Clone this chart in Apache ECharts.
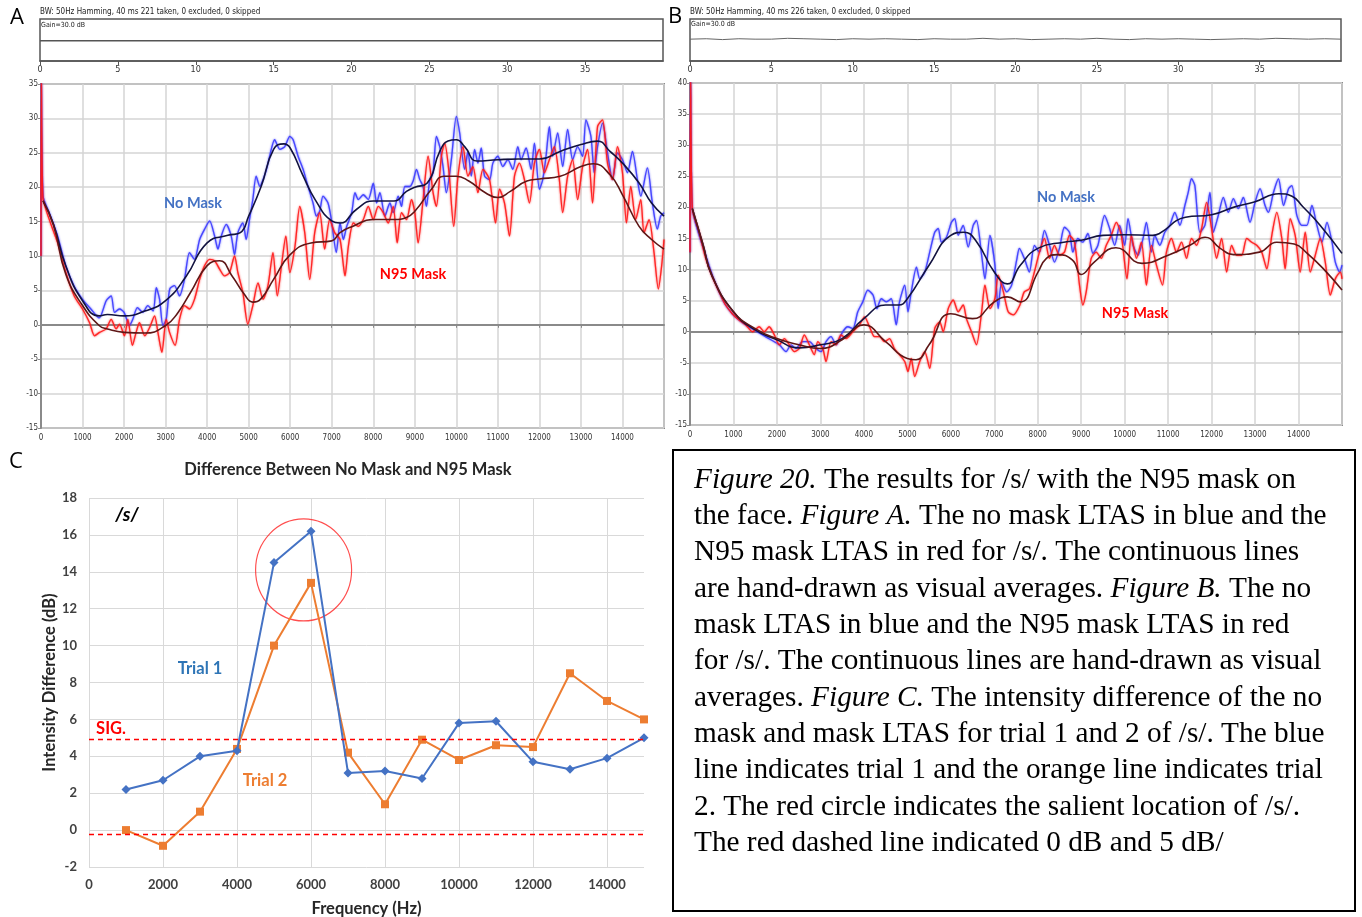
<!DOCTYPE html>
<html><head><meta charset="utf-8">
<script src="https://cdn.jsdelivr.net/npm/echarts@6/dist/echarts.min.js"></script>
<style>html,body{margin:0;padding:0;background:#fff}#c{width:1362px;height:917px}</style>
</head><body><div id="c"></div>
<script>
// ---------- Panel A (LTAS, /s/ trial 1) : [frequency Hz, dB] ----------
const aNoMaskRaw = [[0,10],[10,36],[50,18.7],[200,16.3],[400,12.9],[600,8.5],[800,5.6],[1000,3.7],[1200,2.3],[1400,1.0],[1570,3.5],[1690,4.2],[1770,1.8],[1890,2.3],[2000,1.8],[2130,-0.1],[2210,0.8],[2320,2.5],[2450,1.8],[2570,2.8],[2700,2.0],[2775,5.4],[2855,3.7],[2935,-0.1],[3015,0.8],[3100,5.2],[3215,5.7],[3335,4.2],[3455,6.6],[3575,10.5],[3695,9.5],[3820,12.4],[3940,13.9],[4060,15.1],[4180,12.9],[4260,11.0],[4340,12.9],[4460,14.6],[4580,12.9],[4660,10.2],[4740,13.4],[4860,14.8],[4940,12.4],[5020,15.3],[5100,18.2],[5180,21.6],[5270,20.1],[5345,21.1],[5430,22.6],[5505,24.5],[5625,26.9],[5750,25.5],[5870,25.9],[5990,27.4],[6070,26.9],[6190,24.5],[6310,22.6],[6430,20.1],[6550,17.7],[6630,15.8],[6710,16.5],[6790,18.7],[6910,17.7],[6990,15.3],[7110,10.5],[7200,14.8],[7280,12.4],[7360,14.3],[7480,16.3],[7560,19.2],[7640,18.2],[7760,18.9],[7880,18.2],[8000,20.6],[8080,17.7],[8160,19.2],[8280,15.8],[8400,17.7],[8480,16.3],[8600,18.7],[8680,17.2],[8760,20.1],[8880,20.1],[8960,20.9],[9040,22.6],[9120,21.1],[9200,20.1],[9280,17.2],[9360,21.1],[9440,22.1],[9520,27.4],[9600,25.9],[9680,23.0],[9760,19.2],[9880,24.0],[10000,30.3],[10080,27.9],[10200,22.6],[10280,25.2],[10360,21.6],[10440,25.5],[10520,23.5],[10600,25.7],[10680,21.6],[10800,21.1],[10880,23.5],[11000,24.5],[11120,23.0],[11240,24.0],[11360,22.6],[11480,25.9],[11560,24.0],[11680,25.7],[11800,22.6],[11880,26.4],[12000,19.7],[12080,21.1],[12160,24.5],[12240,28.8],[12320,24.5],[12440,27.9],[12560,23.0],[12680,28.4],[12800,24.0],[12920,25.9],[13040,24.5],[13120,29.8],[13240,27.4],[13320,22.1],[13400,25.9],[13520,29.3],[13640,25.0],[13760,21.1],[13880,25.0],[14000,24.0],[14120,22.1],[14240,25.2],[14360,21.1],[14440,18.7],[14600,22.8],[14720,17.7],[14840,13.9],[14920,15.8],[15000,16.3]];
const aN95Raw = [[0,10],[10,36],[45,18.5],[200,15.3],[400,11.9],[600,7.6],[800,4.2],[1000,2.3],[1170,0.3],[1290,-1.6],[1410,-1.1],[1570,-0.6],[1690,0.8],[1810,-0.6],[1890,0.1],[2010,-1.6],[2090,0.8],[2200,-3.0],[2290,-1.1],[2370,0.3],[2500,-1.6],[2615,-0.4],[2735,1.3],[2815,-1.1],[2910,-4.0],[3015,0.8],[3095,-1.1],[3230,-3.0],[3335,0.8],[3455,2.8],[3575,2.3],[3695,3.7],[3820,6.6],[3940,8.6],[4060,9.5],[4180,9.3],[4300,8.1],[4420,7.1],[4540,7.6],[4660,10.0],[4740,7.6],[4860,4.7],[4980,0.1],[5100,2.8],[5225,6.1],[5345,3.7],[5465,5.7],[5585,10.5],[5690,4.2],[5790,8.6],[5895,12.9],[5990,7.6],[6115,11.4],[6230,17.2],[6350,13.4],[6470,6.6],[6590,13.4],[6710,16.3],[6830,11.0],[6950,15.3],[7070,13.4],[7200,12.4],[7320,7.1],[7400,11.4],[7520,14.8],[7640,14.3],[7760,15.3],[7880,17.2],[8000,15.3],[8120,17.2],[8240,16.3],[8360,14.8],[8480,17.2],[8576,11.9],[8680,16.3],[8800,15.3],[8920,18.2],[9000,16.3],[9080,11.9],[9200,18.2],[9320,24.5],[9440,19.2],[9520,17.2],[9640,24.5],[9720,26.4],[9824,22.1],[9936,14.3],[10040,21.6],[10160,25.9],[10280,21.6],[10400,23.0],[10520,19.2],[10640,22.6],[10800,21.1],[10944,14.8],[11040,19.7],[11160,17.7],[11280,12.9],[11400,21.6],[11520,23.5],[11640,21.1],[11760,17.7],[11880,23.5],[12000,25.5],[12120,22.1],[12240,24.0],[12360,25.9],[12480,21.1],[12560,16.3],[12680,21.6],[12800,24.0],[12920,18.2],[13040,23.0],[13160,25.5],[13280,17.7],[13400,28.8],[13520,29.8],[13640,23.5],[13760,21.1],[13880,25.9],[14000,22.1],[14096,14.8],[14200,20.1],[14320,15.3],[14440,18.2],[14520,13.4],[14640,15.3],[14760,10.5],[14864,5.2],[14944,8.6],[15000,12.4]];
const aNoMaskAvg = [[50,18],[300,14.6],[600,8.5],[1000,3.5],[1400,1.3],[1600,1.5],[2000,1.3],[2500,2.0],[3000,3.5],[3500,7.1],[4000,11.9],[4500,13.0],[4800,13.4],[5000,15.8],[5300,20.1],[5600,25.5],[5850,26.3],[6000,25.7],[6300,21.8],[6600,18.2],[7000,15.1],[7200,14.8],[7600,16.8],[8000,18.0],[8500,18.0],[8800,19.4],[9000,20.0],[9300,20.6],[9600,25.2],[9800,26.7],[10000,26.9],[10200,25.9],[10500,23.8],[11000,24.0],[11500,24.1],[12000,24.1],[12500,25.2],[13000,26.2],[13400,26.7],[13700,25.2],[14000,23.5],[14400,20.6],[14700,17.7],[15000,15.8]];
const aN95Avg = [[50,18],[300,14.5],[600,7.3],[1000,2.8],[1400,-0.1],[1600,-0.6],[2000,-1.1],[2500,-1.2],[3000,-0.1],[3300,1.8],[3600,4.7],[4000,8.6],[4300,9.3],[4600,7.1],[4900,4.4],[5100,3.3],[5300,3.8],[5600,6.6],[6000,10.2],[6500,11.9],[7000,12.2],[7200,13.4],[7500,14.3],[8000,15.3],[8500,15.3],[8800,15.6],[9000,16.5],[9400,19.7],[9700,21.6],[10000,21.6],[10300,20.9],[10700,19.2],[11000,18.5],[11300,19.4],[11700,20.9],[12000,21.2],[12500,21.6],[13000,23.0],[13300,23.4],[13700,21.8],[14000,18.9],[14400,14.3],[14700,12.4],[15000,11.0]];

// ---------- Panel B (LTAS, /s/ trial 2) ----------
const bNoMaskRaw = [[0,12.8],[15,41],[54,19.8],[210,15.5],[360,12.3],[515,9.1],[670,6.4],[820,4.3],[975,2.9],[1130,1.9],[1285,1.1],[1475,0.3],[1670,-0.5],[1860,-1.3],[2055,-2.1],[2210,-3.2],[2325,-2.1],[2440,-2.7],[2590,-1.6],[2745,-1.6],[2900,-2.7],[3015,-3.2],[3130,-1.6],[3245,-0.8],[3360,-2.1],[3515,0.0],[3630,0.8],[3745,0.5],[3860,3.2],[3975,4.8],[4090,6.7],[4210,5.9],[4300,3.7],[4400,5.3],[4515,4.8],[4630,5.3],[4745,1.1],[4820,4.8],[4940,7.5],[5015,3.2],[5090,6.4],[5210,10.4],[5285,8.5],[5400,9.6],[5515,12.8],[5630,16.0],[5710,16.6],[5785,14.4],[5900,15.2],[6015,17.6],[6090,18.2],[6170,15.5],[6285,17.1],[6400,13.6],[6515,17.1],[6590,17.9],[6710,12.3],[6785,8.5],[6900,15.5],[7015,10.7],[7090,3.7],[7170,8.0],[7285,6.4],[7400,7.5],[7515,11.5],[7577,13.4],[7690,11.8],[7808,9.6],[7923,13.9],[8040,12.8],[8154,16.3],[8270,13.9],[8385,11.2],[8500,13.4],[8615,16.8],[8730,16.0],[8808,12.8],[8923,15.0],[9038,14.4],[9154,15.8],[9270,12.6],[9385,13.9],[9538,18.7],[9654,16.6],[9770,13.9],[9884,17.1],[10000,13.9],[10077,18.2],[10192,13.9],[10308,12.3],[10423,15.0],[10500,17.6],[10615,12.8],[10692,15.5],[10808,13.9],[10923,16.0],[11038,17.1],[11154,19.2],[11270,17.1],[11385,20.3],[11462,22.4],[11538,24.6],[11615,23.5],[11730,16.0],[11846,17.1],[11962,22.4],[12040,16.0],[12154,18.7],[12270,21.6],[12385,19.2],[12500,21.4],[12615,19.8],[12730,21.6],[12884,17.6],[13000,20.8],[13115,23.0],[13230,20.3],[13308,19.2],[13423,22.4],[13538,24.6],[13654,20.3],[13770,23.0],[13846,23.5],[13961,18.7],[14077,17.1],[14192,17.1],[14308,20.3],[14423,17.1],[14538,14.4],[14654,17.6],[14770,14.4],[14846,11.2],[14946,9.6],[15000,10.7]];
const bN95Raw = [[0,12.8],[15,41],[54,19.8],[210,16.0],[360,11.8],[515,8.8],[670,6.4],[820,4.3],[975,2.9],[1130,1.9],[1285,1.1],[1440,0.0],[1590,0.8],[1710,0.0],[1820,0.8],[1940,-0.5],[2055,-2.1],[2170,-1.1],[2285,-2.1],[2400,-3.2],[2515,-2.7],[2630,-0.5],[2745,-2.1],[2860,-3.7],[2940,-1.6],[3055,-2.7],[3130,-4.8],[3245,-1.6],[3360,-2.1],[3475,-0.5],[3590,-1.1],[3745,0.0],[3900,1.1],[4015,2.4],[4130,0.8],[4245,-0.8],[4360,-0.8],[4475,-1.6],[4590,-1.1],[4700,-2.7],[4820,-3.7],[4940,-4.8],[5015,-6.4],[5090,-4.3],[5170,-7.2],[5285,-4.8],[5400,-3.2],[5515,-5.9],[5630,0.5],[5745,1.6],[5825,0.0],[5940,3.7],[6055,5.1],[6170,3.2],[6285,4.3],[6360,2.1],[6475,0.0],[6590,-2.1],[6710,3.2],[6785,7.5],[6900,3.7],[7015,5.3],[7090,9.1],[7210,6.4],[7320,3.2],[7440,2.7],[7590,4.3],[7690,6.4],[7808,6.9],[7923,9.6],[8040,12.8],[8154,15.0],[8270,11.8],[8385,13.9],[8500,12.3],[8615,12.8],[8730,15.5],[8846,14.4],[8961,7.5],[9038,4.3],[9115,6.4],[9230,11.8],[9346,12.8],[9461,11.8],[9577,13.9],[9692,15.5],[9808,17.6],[9923,15.5],[10053,8.5],[10154,15.5],[10270,11.8],[10385,14.4],[10500,7.5],[10615,13.9],[10731,10.7],[10870,7.5],[10961,12.8],[11077,15.0],[11192,12.8],[11308,14.4],[11423,11.8],[11538,15.0],[11654,13.9],[11770,16.6],[11885,20.8],[12000,16.6],[12115,11.8],[12230,15.0],[12346,9.6],[12461,13.9],[12577,12.3],[12692,12.3],[12808,15.0],[12923,14.4],[13038,13.9],[13154,12.8],[13270,10.1],[13385,15.5],[13500,19.2],[13615,15.0],[13692,10.1],[13808,18.2],[13923,15.5],[14038,9.6],[14154,16.0],[14270,9.6],[14385,12.3],[14500,15.0],[14615,11.2],[14731,5.9],[14846,8.5],[14961,9.6],[15000,8.5]];
const bNoMaskAvg = [[54,19.8],[300,14],[500,9.1],[1000,3.2],[1500,0.3],[2000,-1.3],[2500,-2.6],[3000,-2.1],[3500,-1.1],[4000,2.1],[4500,4.3],[4800,4.3],[5000,5.3],[5500,10.7],[6000,15.5],[6300,16.0],[6600,14.4],[7000,9.6],[7300,7.7],[7600,10.7],[8000,13.4],[8600,14.4],[9000,14.7],[9500,15.5],[10000,15.6],[10650,15.5],[10800,15.8],[11400,18.4],[12000,18.8],[12500,20.0],[13000,20.9],[13550,22.2],[13850,21.8],[14100,20.1],[14500,17.1],[15000,12.6]];
const bN95Avg = [[54,19.8],[300,14],[500,9.1],[1000,3.2],[1500,0.5],[2000,-1.1],[2500,-2.1],[3000,-2.7],[3500,-1.3],[4000,1.1],[4500,-1.6],[5000,-4.3],[5200,-4.5],[5500,-2.1],[6000,2.9],[6500,2.1],[7000,4.8],[7300,5.6],[7600,4.8],[8000,9.5],[8200,11.8],[8450,12.4],[8800,11.5],[9000,9.2],[9300,11.2],[9800,13.5],[10400,11.0],[11000,12.3],[11500,13.9],[11850,15.2],[12200,13.4],[12500,12.4],[13100,12.8],[13500,14.4],[13900,14.1],[14200,12.6],[14600,9.9],[15000,6.7]];

// ---------- Header strips (time, 0..40) ----------
const aHeaderTrace = [[0,0.48],[40,0.48]];
const bHeaderTrace = [[0,0.52],[1,0.53],[2,0.51],[3,0.53],[4,0.52],[5,0.52],[6,0.54],[7,0.53],[8,0.52],[9,0.51],[10,0.53],[11,0.52],[12,0.53],[13,0.52],[14,0.51],[15,0.53],[16,0.52],[17,0.52],[18,0.54],[19,0.52],[20,0.53],[21,0.51],[22,0.52],[23,0.53],[24,0.52],[25,0.54],[26,0.52],[27,0.51],[28,0.53],[29,0.52],[30,0.53],[31,0.52],[32,0.51],[33,0.52],[34,0.53],[35,0.52],[36,0.54],[37,0.53],[38,0.52],[39,0.53],[40,0.52]];

// ---------- Panel C (difference) ----------
const cFreq   = [1000,2000,3000,4000,5000,6000,7000,8000,9000,10000,11000,12000,13000,14000,15000];
const cTrial1 = [2.2,2.7,4.0,4.3,14.5,16.2,3.1,3.2,2.8,5.8,5.9,3.7,3.3,3.9,5.0];
const cTrial2 = [0.0,-0.85,1.0,4.4,10.0,13.4,4.2,1.4,4.9,3.8,4.6,4.5,8.5,7.0,6.0];
const cRefLines = [4.9,-0.2];
const cSalient = [5800,14.1];

const NARROW='"Liberation Sans Narrow","DejaVu Sans Condensed","Liberation Sans",sans-serif';
const SANS='Lato,"Open Sans",sans-serif';
const SERIF='Liberation Serif';

const captionLines = [
 '{i|Figure 20.} The results for /s/ with the N95 mask on',
 'the face. {i|Figure A.} The no mask LTAS in blue and the',
 'N95 mask LTAS in red for /s/. The continuous lines',
 'are hand-drawn as visual averages. {i|Figure B.} The no',
 'mask LTAS in blue and the N95 mask LTAS in red',
 'for /s/. The continuous lines are hand-drawn as visual',
 'averages. {i|Figure C.} The intensity difference of the no',
 'mask and mask LTAS for trial 1 and 2 of /s/. The blue',
 'line indicates trial 1 and the orange line indicates trial',
 '2. The red circle indicates the salient location of /s/.',
 'The red dashed line indicated 0 dB and 5 dB/'
];

function T(text,x,y,font,fill,align){
  return {type:'text',x:x,y:y,z:50,style:{text:text,font:font,fill:fill||'#000',
    textAlign:align||'left',align:align||'left',textVerticalAlign:'middle',verticalAlign:'middle'}};
}
const plain = v => String(v);

const headerX = (gi)=>({gridIndex:gi,type:'value',min:0,max:40,interval:5,
  axisLine:{show:true,lineStyle:{color:'#555',width:1.5}},
  axisTick:{show:true,length:4,lineStyle:{color:'#555'}},
  axisLabel:{fontFamily:NARROW,fontSize:9,color:'#333',margin:4,showMaxLabel:false,formatter:plain},
  splitLine:{show:false}});
const headerY = (gi)=>({gridIndex:gi,type:'value',min:0,max:1,show:false});
const specX = (gi)=>({gridIndex:gi,type:'value',min:0,max:15000,interval:1000,
  axisLine:{show:true,lineStyle:{color:'#8a8a8a',width:2}},
  axisTick:{show:true,length:3,lineStyle:{color:'#8a8a8a'}},
  axisLabel:{fontFamily:NARROW,fontSize:8,color:'#333',margin:6,showMaxLabel:false,formatter:plain},
  splitLine:{show:true,lineStyle:{color:'#d4d4d4',width:1.5}}});
const specY = (gi,mn,mx)=>({gridIndex:gi,type:'value',min:mn,max:mx,interval:5,
  axisLine:{show:true,lineStyle:{color:'#8a8a8a',width:2}},
  axisTick:{show:true,length:3,lineStyle:{color:'#8a8a8a'}},
  axisLabel:{fontFamily:NARROW,fontSize:8,color:'#333',margin:3,formatter:plain},
  splitLine:{show:true,lineStyle:{color:'#d4d4d4',width:1.5}}});

function raw(data,ax,color){return {type:'line',xAxisIndex:ax,yAxisIndex:ax,data:data,symbol:'none',smooth:0.25,
  lineStyle:{color:color,width:1.3,opacity:0.9,shadowBlur:2,shadowColor:color},z:2};}
function avg(data,ax,color){return {type:'line',xAxisIndex:ax,yAxisIndex:ax,data:data,symbol:'none',smooth:0.5,
  lineStyle:{color:color,width:1.6},z:3};}

const G = o => Object.assign({outerBoundsMode:'none',containLabel:false},o);

const chart = echarts.init(document.getElementById('c'),null,{renderer:'canvas'});
chart.setOption({
  animation:false,
  backgroundColor:'#fff',
  title:[{
    text:captionLines.join('\n'), left:694, top:462, padding:0,
    textStyle:{fontFamily:SERIF,fontSize:29.3,fontWeight:'normal',color:'#000',lineHeight:36.3,
      rich:{i:{fontFamily:SERIF,fontSize:29.3,fontStyle:'italic',color:'#000',lineHeight:36.3}}}
  }],
  grid:[
    G({left:40,top:19,width:623,height:42,show:true,borderColor:'#555',borderWidth:1.5}),
    G({left:41,top:84,width:623,height:344,show:true,borderColor:'#8a8a8a',borderWidth:2}),
    G({left:690,top:19,width:651,height:42,show:true,borderColor:'#555',borderWidth:1.5}),
    G({left:690,top:83,width:652,height:342,show:true,borderColor:'#8a8a8a',borderWidth:2}),
    G({left:89,top:498,width:555,height:369})
  ],
  xAxis:[headerX(0),specX(1),headerX(2),specX(3),
    {gridIndex:4,type:'value',min:0,max:15000,interval:2000,
     axisLine:{show:false},axisTick:{show:false},
     axisLabel:{fontFamily:SANS,fontWeight:'bold',fontSize:13,color:'#404040',margin:11,showMaxLabel:false,formatter:plain},
     splitLine:{show:true,showMaxLine:false,lineStyle:{color:'#d9d9d9',width:1}},
     name:'Frequency (Hz)',nameLocation:'middle',nameGap:33,
     nameTextStyle:{fontFamily:SANS,fontWeight:'bold',fontSize:16.5,color:'#262626'}}],
  yAxis:[headerY(0),specY(1,-15,35),headerY(2),specY(3,-15,40),
    {gridIndex:4,type:'value',min:-2,max:18,interval:2,
     axisLine:{show:false},axisTick:{show:false},
     axisLabel:{fontFamily:SANS,fontWeight:'bold',fontSize:13,color:'#404040',margin:12,formatter:plain},
     splitLine:{show:true,lineStyle:{color:'#d9d9d9',width:1}},
     name:'Intensity Difference (dB)',nameLocation:'middle',nameGap:31,nameRotate:90,
     nameTextStyle:{fontFamily:SANS,fontWeight:'bold',fontSize:16.5,color:'#262626'}}],
  series:[
    {type:'line',xAxisIndex:0,yAxisIndex:0,data:aHeaderTrace,symbol:'none',lineStyle:{color:'#555',width:1.5}},
    {type:'line',xAxisIndex:2,yAxisIndex:2,data:bHeaderTrace,symbol:'none',lineStyle:{color:'#666',width:1}},
    raw(aNoMaskRaw,1,'#3b3bff'), raw(aN95Raw,1,'#ff1a1a'),
    avg(aNoMaskAvg,1,'#12123f'), avg(aN95Avg,1,'#5e1616'),
    raw(bNoMaskRaw,3,'#3b3bff'), raw(bN95Raw,3,'#ff1a1a'),
    avg(bNoMaskAvg,3,'#12123f'), avg(bN95Avg,3,'#5e1616'),
    {type:'scatter',xAxisIndex:4,yAxisIndex:4,data:[cSalient],symbol:'circle',symbolSize:[96,102],silent:true,
     itemStyle:{color:'rgba(0,0,0,0)',borderColor:'#ff2020',borderWidth:1.2},z:1},
    {name:'Trial 1',type:'line',xAxisIndex:4,yAxisIndex:4,data:cFreq.map((f,i)=>[f,cTrial1[i]]),
     symbol:'diamond',symbolSize:9,lineStyle:{color:'#4472C4',width:2},itemStyle:{color:'#4472C4'},z:4,
     markLine:{silent:true,symbol:['none','none'],label:{show:false},
       lineStyle:{color:'#ff0000',type:[5,4],width:1.3},data:cRefLines.map(v=>({yAxis:v}))}},
    {name:'Trial 2',type:'line',xAxisIndex:4,yAxisIndex:4,data:cFreq.map((f,i)=>[f,cTrial2[i]]),
     symbol:'rect',symbolSize:8,lineStyle:{color:'#ED7D31',width:2},itemStyle:{color:'#ED7D31'},z:3}
  ],
  graphic:[
    T('A',10,18,'22px "Open Sans"','#000'),
    T('B',668,17,'22px "Open Sans"','#000'),
    T('C',9,462,'22px "Open Sans"','#000'),
    T('BW: 50Hz Hamming, 40 ms 221 taken, 0 excluded, 0 skipped',40,12,'8px '+NARROW,'#222'),
    T('BW: 50Hz Hamming, 40 ms 226 taken, 0 excluded, 0 skipped',690,12,'8px '+NARROW,'#222'),
    T('Gain=30.0 dB',41,25,'7px '+NARROW,'#222'),
    T('Gain=30.0 dB',691,24,'7px '+NARROW,'#222'),
    T('No Mask',193,203,'bold 14.5px '+SANS,'#4472C4','center'),
    T('N95 Mask',413,274,'bold 14.5px '+SANS,'#ff0000','center'),
    T('No Mask',1066,197,'bold 14.5px '+SANS,'#4472C4','center'),
    T('N95 Mask',1135,313,'bold 14.5px '+SANS,'#ff0000','center'),
    T('Difference Between No Mask and N95 Mask',348,470,'bold 16.5px '+SANS,'#262626','center'),
    T('/s/',127,515,'italic bold 19px '+SANS,'#000','center'),
    T('Trial 1',200,669,'bold 16.5px '+SANS,'#2E75B6','center'),
    T('Trial 2',265,781,'bold 16.5px '+SANS,'#ED7D31','center'),
    T('SIG.',111,729,'bold 16.5px '+SANS,'#ff0000','center'),
    {type:'rect',z:40,shape:{x:673,y:450,width:682,height:461},style:{fill:'none',stroke:'#000',lineWidth:2}}
  ]
});
</script></body></html>
